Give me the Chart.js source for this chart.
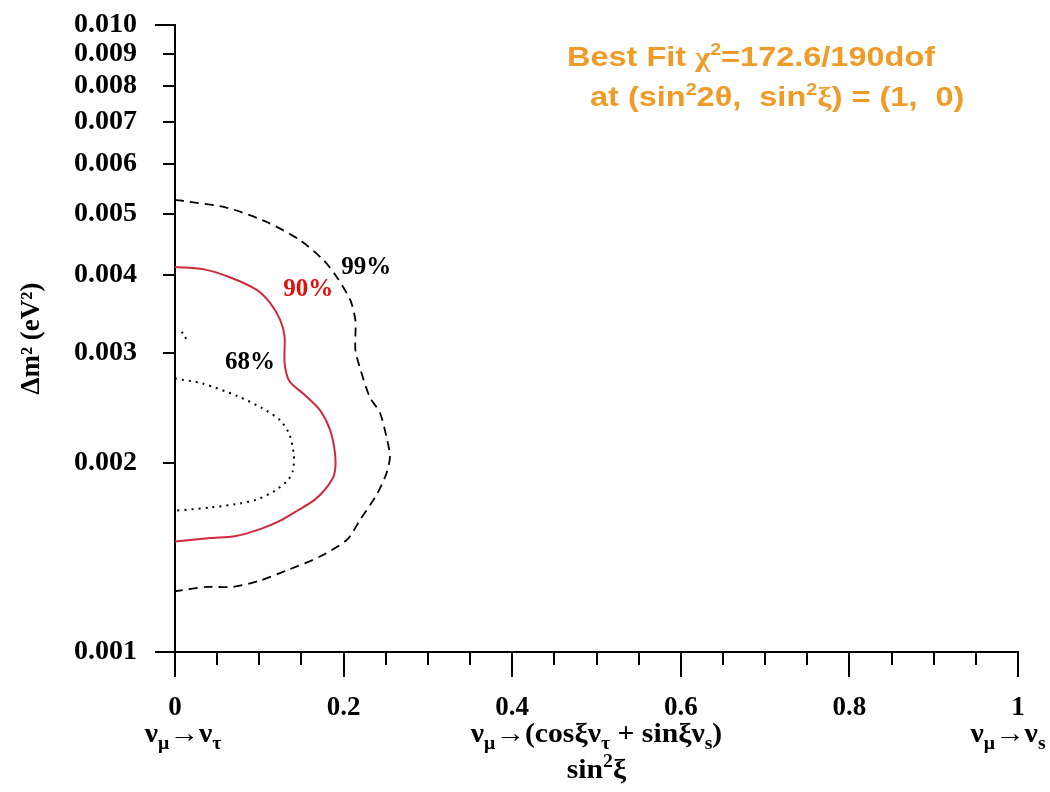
<!DOCTYPE html>
<html>
<head>
<meta charset="utf-8">
<script src="https://cdn.jsdelivr.net/npm/chart.js@4.4.0/dist/chart.umd.min.js"></script>
<style>
  body { margin: 0; background: #fff; }
  #wrap { width: 1050px; height: 792px; }
</style>
</head>
<body>
<div id="wrap"><canvas id="contourChart" width="1050" height="792"></canvas></div>
<script>
// allowed regions in (sin^2 xi, dm^2) plane
const cl68X = [0, 0.033, 0.074, 0.103, 0.125, 0.136, 0.141, 0.140, 0.134, 0.119, 0.097, 0.071, 0.042, 0];
const cl68Y = [0.00273, 0.00268, 0.00256, 0.00245, 0.00234, 0.00222, 0.00206, 0.00195, 0.00188, 0.00181, 0.00175, 0.00172, 0.00170, 0.00168];
const cl68IsleX = [0.008, 0.014];
const cl68IsleY = [0.00324, 0.00315];

const cl90X = [0, 0.033, 0.065, 0.097, 0.113, 0.125, 0.130, 0.130, 0.136, 0.154, 0.172, 0.184, 0.190, 0.189, 0.180, 0.166, 0.145, 0.125, 0.101, 0.071, 0.042, 0];
const cl90Y = [0.00411, 0.00408, 0.00396, 0.00378, 0.00360, 0.00338, 0.00318, 0.00289, 0.00270, 0.00257, 0.00243, 0.00226, 0.00206, 0.00192, 0.00183, 0.00175, 0.00168, 0.00162, 0.00157, 0.00153, 0.00152, 0.00150];

const cl99X = [0, 0.006, 0.062, 0.109, 0.148, 0.176, 0.192, 0.208, 0.214, 0.214, 0.219, 0.231, 0.243, 0.251, 0.255, 0.251, 0.240, 0.219, 0.204, 0.172, 0.133, 0.101, 0.069, 0.038, 0];
const cl99Y = [0.00526, 0.00525, 0.00511, 0.00485, 0.00454, 0.00422, 0.00396, 0.00364, 0.00338, 0.00303, 0.00285, 0.00255, 0.00241, 0.00220, 0.00205, 0.00193, 0.00179, 0.00162, 0.00151, 0.00142, 0.00135, 0.00130, 0.00127, 0.00127, 0.00125];

const yTicks = [0.001, 0.002, 0.003, 0.004, 0.005, 0.006, 0.007, 0.008, 0.009, 0.010];
const xMinorTicks = [0, 0.05, 0.1, 0.15, 0.2, 0.25, 0.3, 0.35, 0.4, 0.45, 0.5, 0.55, 0.6, 0.65, 0.7, 0.75, 0.8, 0.85, 0.9, 0.95, 1];

// contour labels: [text, x, y, colour]
const clLabels = [
  ['68%', 0.089, 0.00289, '#000'],
  ['90%', 0.158, 0.00379, '#e01010'],
  ['99%', 0.227, 0.00411, '#000']
];

function pts(xs, ys) {
  return xs.map((x, i) => ({ x: x, y: ys[i] }));
}

const SERIF = '"Liberation Serif", "Times New Roman", serif';
const SANS = '"Liberation Sans", Arial, sans-serif';
const ORANGE = '#f09b28';

// draw a row of text pieces (sub/superscripts) starting at x, optionally stretched
function drawRuns(ctx, runs, x, y, align, sx) {
  sx = sx || 1;
  let total = 0;
  runs.forEach(r => { ctx.font = r.f; r.w = ctx.measureText(r.t).width * sx; total += r.w; });
  let cx = align === 'center' ? x - total / 2 : (align === 'right' ? x - total : x);
  ctx.textAlign = 'left';
  ctx.textBaseline = 'alphabetic';
  runs.forEach(r => {
    ctx.font = r.f;
    ctx.save();
    ctx.translate(cx, y + (r.dy || 0));
    ctx.scale(sx, 1);
    ctx.fillText(r.t, 0, 0);
    ctx.restore();
    cx += r.w;
  });
}

const decorations = {
  id: 'decorations',
  afterDraw(chart) {
    const ctx = chart.ctx;
    const xs = chart.scales.x, ys = chart.scales.y;
    const left = chart.chartArea.left, bottom = chart.chartArea.bottom;
    ctx.save();
    ctx.strokeStyle = '#000';
    ctx.lineWidth = 2;
    ctx.beginPath();
    // x ticks: long at every 0.2, short in between
    xMinorTicks.forEach((v, i) => {
      const px = Math.round(xs.getPixelForValue(v));
      const len = (i % 4 === 0) ? 25 : 13;
      ctx.moveTo(px, bottom);
      ctx.lineTo(px, bottom + len);
    });
    // y ticks
    yTicks.forEach((v, i) => {
      const py = Math.round(ys.getPixelForValue(v));
      const len = (i === 0 || i === yTicks.length - 1) ? 20 : 12;
      ctx.moveTo(left, py);
      ctx.lineTo(left - len, py);
    });
    ctx.stroke();

    ctx.fillStyle = '#000';
    const big = 'bold 27px ' + SERIF, sub = 'bold 18px ' + SERIF;
    const subY = 742;
    drawRuns(ctx, [
      { t: 'ν', f: big }, { t: 'μ', f: sub, dy: 7 }, { t: '→ν', f: big }, { t: 'τ', f: sub, dy: 7 }
    ], xs.getPixelForValue(0) + 8, subY, 'center', 1.1);
    drawRuns(ctx, [
      { t: 'ν', f: big }, { t: 'μ', f: sub, dy: 7 }, { t: '→(cosξν', f: big }, { t: 'τ', f: sub, dy: 7 },
      { t: ' + sinξν', f: big }, { t: 's', f: sub, dy: 7 }, { t: ')', f: big }
    ], xs.getPixelForValue(0.5), subY, 'center', 1.1);
    drawRuns(ctx, [
      { t: 'ν', f: big }, { t: 'μ', f: sub, dy: 7 }, { t: '→ν', f: big }, { t: 's', f: sub, dy: 7 }
    ], xs.getPixelForValue(1) - 10, subY, 'center', 1.1);
    drawRuns(ctx, [
      { t: 'sin', f: big }, { t: '2', f: sub, dy: -11 }, { t: 'ξ', f: big }
    ], xs.getPixelForValue(0.5), 778, 'center', 1.1);

    // contour labels
    clLabels.forEach(l => {
      ctx.fillStyle = l[3];
      ctx.font = 'bold 25px ' + SERIF;
      ctx.textAlign = 'center';
      ctx.textBaseline = 'middle';
      ctx.fillText(l[0], xs.getPixelForValue(l[1]), ys.getPixelForValue(l[2]));
    });

    // best fit note
    ctx.fillStyle = ORANGE;
    const nf = 'bold 28px ' + SANS, ns = 'bold 17px ' + SANS;
    const ratio = 1.16;
    drawRuns(ctx, [
      { t: 'Best Fit ', f: nf }, { t: 'χ', f: 'bold 28px ' + SERIF }, { t: '2', f: ns, dy: -11 },
      { t: '=172.6/190dof', f: nf }
    ], 567, 66, 'left', ratio);
    drawRuns(ctx, [
      { t: 'at (sin', f: nf }, { t: '2', f: ns, dy: -11 }, { t: '2θ,  sin', f: nf },
      { t: '2', f: ns, dy: -11 }, { t: 'ξ', f: 'bold 28px ' + SERIF }, { t: ') = (1,  0)', f: nf }
    ], 590, 106, 'left', ratio);
    ctx.restore();
  }
};

new Chart(document.getElementById('contourChart'), {
  type: 'scatter',
  data: {
    datasets: [
      { label: '68%', data: pts(cl68X, cl68Y), borderColor: '#000', borderWidth: 2, borderDash: [2, 5] },
      { label: '68% island', data: pts(cl68IsleX, cl68IsleY), borderColor: '#000', borderWidth: 2, borderDash: [2, 4] },
      { label: '90%', data: pts(cl90X, cl90Y), borderColor: '#d0283c', borderWidth: 2 },
      { label: '99%', data: pts(cl99X, cl99Y), borderColor: '#000', borderWidth: 1.8, borderDash: [9, 6] }
    ].map(d => Object.assign(d, { showLine: true, pointRadius: 0, tension: 0.25, fill: false }))
  },
  options: {
    responsive: false,
    animation: false,
    layout: { padding: { top: 25, right: 32, left: 0, bottom: 0 } },
    plugins: { legend: { display: false }, tooltip: { enabled: false } },
    scales: {
      x: {
        type: 'linear',
        min: 0, max: 1,
        grid: { display: false, drawTicks: false },
        border: { display: true, color: '#000', width: 2 },
        ticks: {
          stepSize: 0.2, autoSkip: false, maxRotation: 0, padding: 40,
          color: '#000', font: { family: SERIF, size: 27, weight: 'bold' },
          callback: v => String(Math.round(v * 10) / 10)
        },
        afterFit(scale) {
          scale.height = 140;
          scale.paddingLeft = 0;
          scale.paddingRight = 0;
        }
      },
      y: {
        type: 'logarithmic',
        min: 0.001, max: 0.010,
        grid: { display: false, drawTicks: false },
        border: { display: true, color: '#000', width: 2 },
        afterBuildTicks(scale) { scale.ticks = yTicks.map(v => ({ value: v })); },
        ticks: {
          autoSkip: false, padding: 38, color: '#000',
          font: { family: SERIF, size: 28, weight: 'bold' },
          callback: v => Number(v).toFixed(3)
        },
        title: {
          display: true, text: 'Δm² (eV²)', color: '#000',
          font: { family: SERIF, size: 27, weight: 'bold' },
          padding: { top: 16, bottom: 0 }
        },
        afterFit(scale) {
          scale.width = 175;
          scale.paddingTop = 0;
          scale.paddingBottom = 0;
        }
      }
    }
  },
  plugins: [decorations]
});
</script>
</body>
</html>
